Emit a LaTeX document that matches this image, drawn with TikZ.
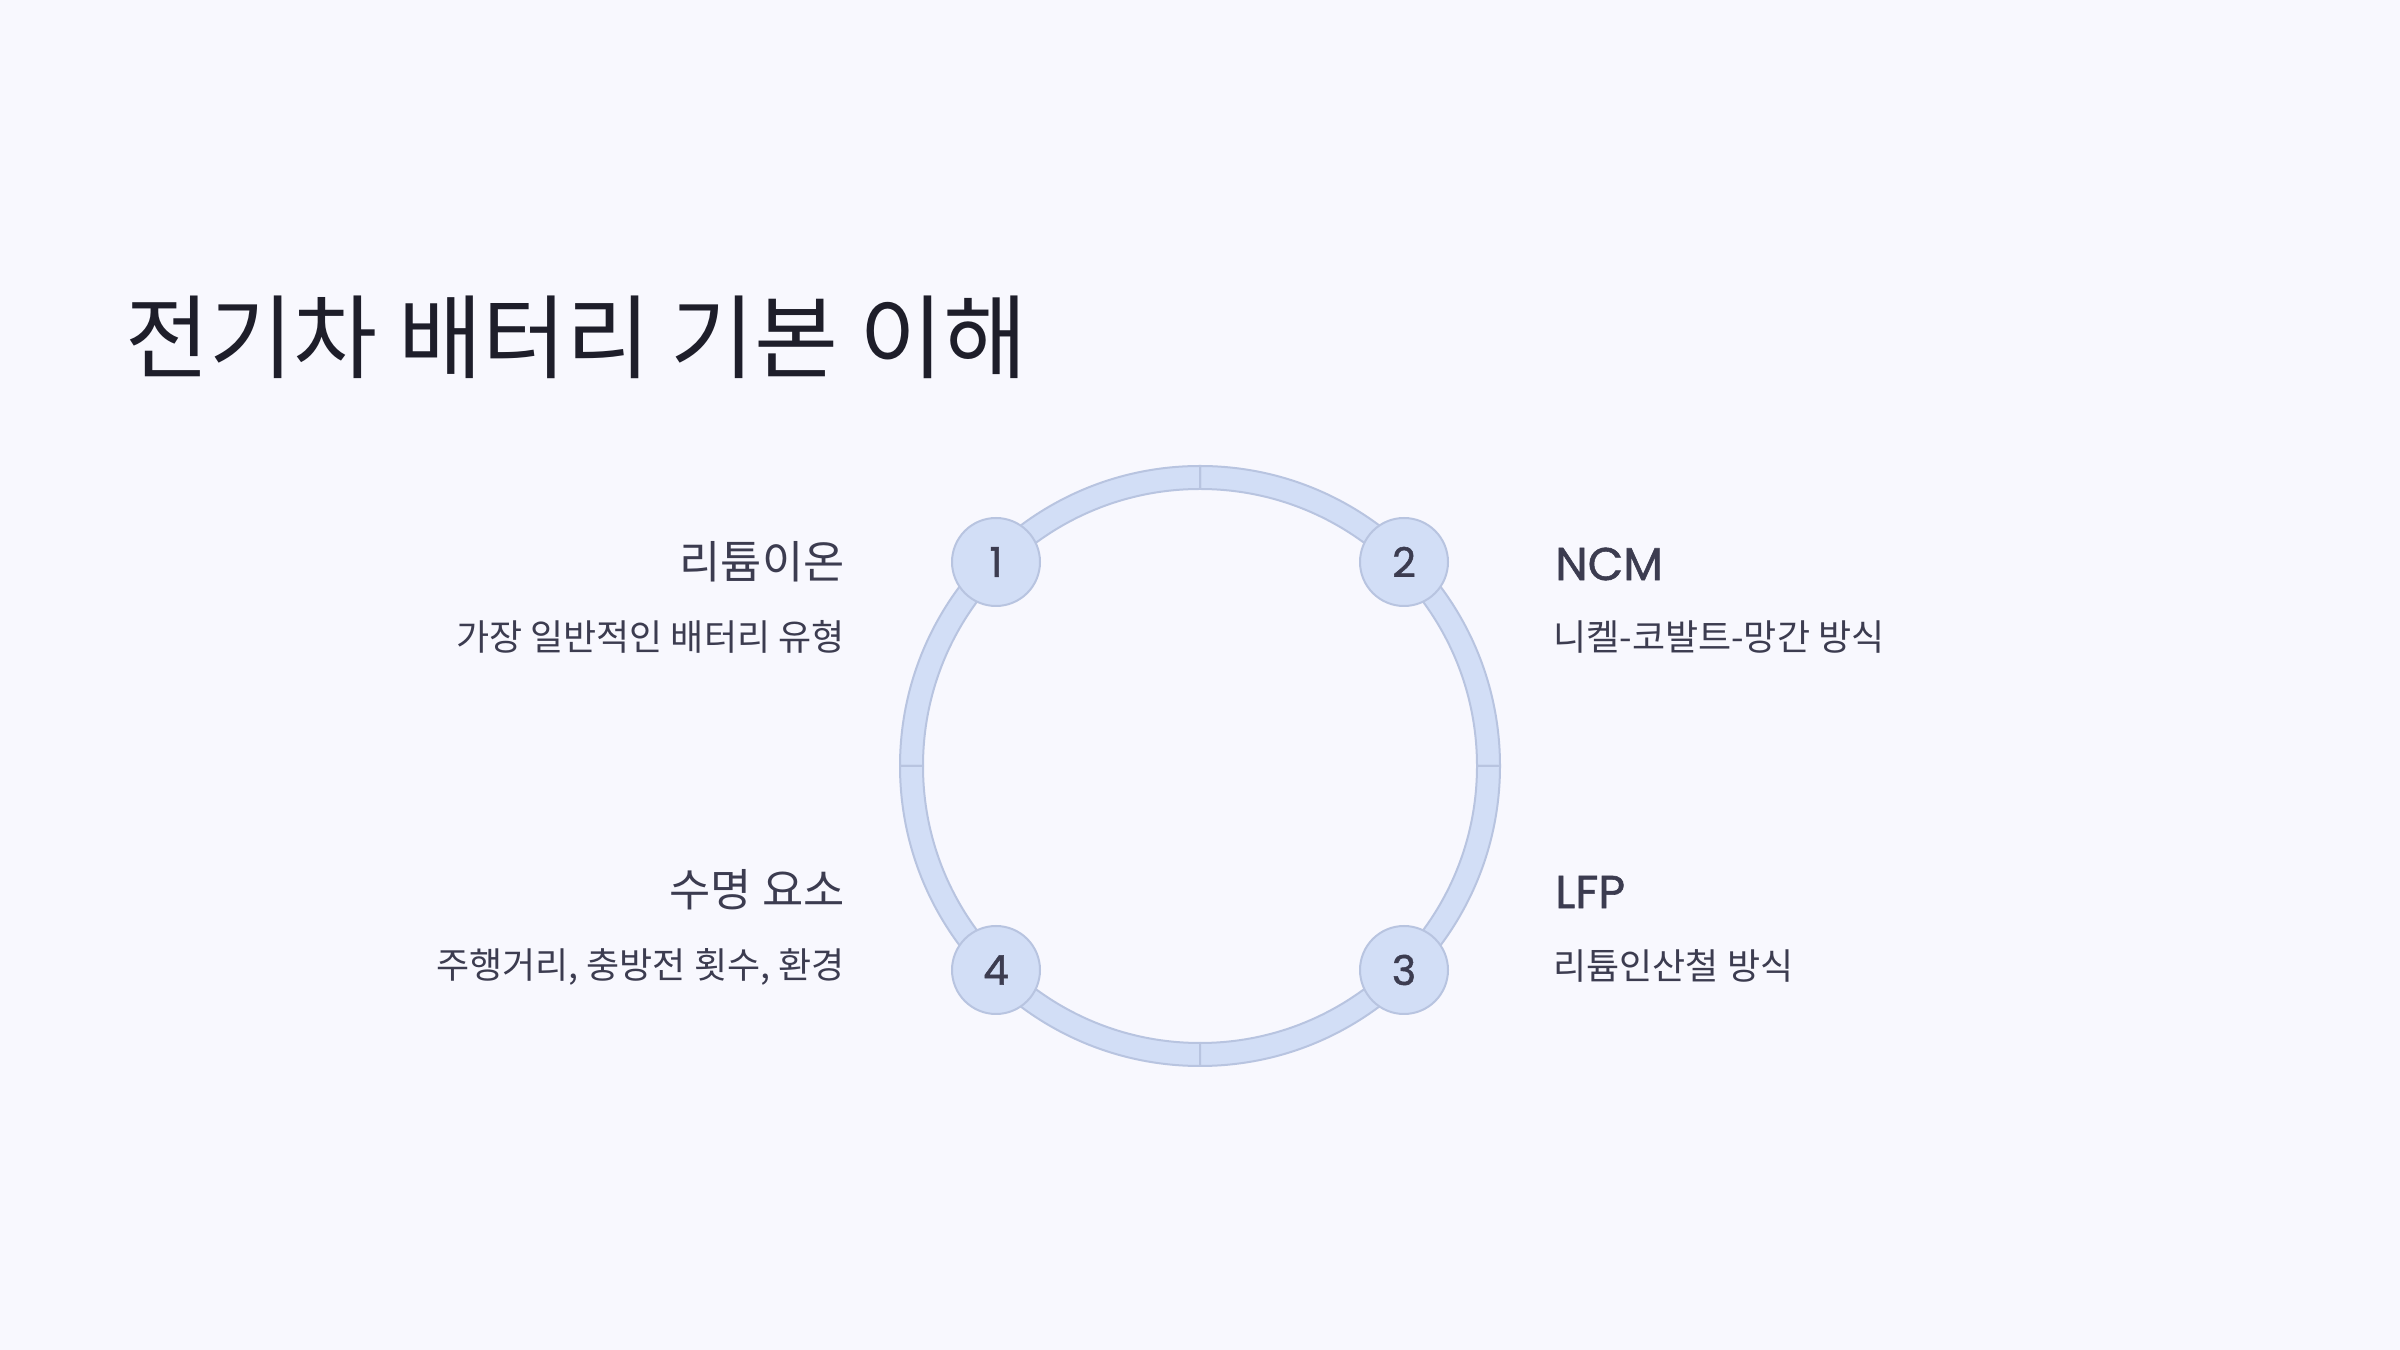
\documentclass[tikz,border=0pt]{standalone}
\usepackage{fontspec}
\newfontfamily\kr{Noto Sans CJK KR}
\newfontfamily\lat{Poppins}[FakeBold=1.2]
\definecolor{bg}{HTML}{F8F8FE}
\definecolor{ringfill}{HTML}{D2DEF6}
\definecolor{ringline}{HTML}{B8C4E0}
\definecolor{txt}{HTML}{3C3C50}
\definecolor{ttl}{HTML}{1E1E2A}
\tikzset{
  seg/.style={fill=ringfill, draw=ringline, line width=1pt, line join=round},
  numcirc/.style={circle, fill=ringfill, draw=ringline, line width=1pt, minimum size=44pt, inner sep=0pt, text=txt, font=\lat\fontsize{20.5}{24}\selectfont},
  headL/.style={anchor=east, inner sep=0pt, text=txt},
  headR/.style={anchor=west, inner sep=0pt, text=txt},
  krhead/.style={font=\kr\fontsize{22.4}{26}\selectfont},
  lathead/.style={font=\lat\fontsize{23}{27}\selectfont},
  desc/.style={font=\kr\fontsize{18}{21}\selectfont},
}
\begin{document}
\begin{tikzpicture}[x=0.5pt,y=0.5pt]
\useasboundingbox (0,0) rectangle (2400,1350);
\fill[bg] (0,0) rectangle (2400,1350);
% title
\node[anchor=west, inner sep=0pt, text=ttl, font=\kr\fontsize{45.7}{52}\selectfont] (title) at (125,1013) {전기차 배터리 기본 이해};
% ring segments
\begin{scope}[shift={(1200,584)}]
\foreach \a in {0,90,180,270}{
  \path[seg] (\a:300) arc[start angle=\a, end angle=\a+90, radius=300]
     -- (\a+90:277) arc[start angle=\a+90, end angle=\a, radius=277] -- cycle;
}
\end{scope}
% numbered circles
\node[numcirc] (n1) at (996,788) {1};
\node[numcirc] (n2) at (1404,788) {2};
\node[numcirc] (n3) at (1404,380) {3};
\node[numcirc] (n4) at (996,380) {4};
% left texts
\node[headL, krhead] (h1) at (845,788) {리튬이온};
\node[headL, desc] (d1) at (845,713) {가장 일반적인 배터리 유형};
\node[headL, krhead] (h4) at (845,460) {수명 요소};
\node[headL, desc] (d4) at (845,383) {주행거리, 충방전 횟수, 환경};
% right texts
\node[headR, lathead] (h2) at (1555,786) {NCM};
\node[headR, desc] (d2) at (1553,713) {니켈-코발트-망간 방식};
\node[headR, lathead] (h3) at (1555,458) {LFP};
\node[headR, desc] (d3) at (1553,384) {리튬인산철 방식};
\end{tikzpicture}
\end{document}
